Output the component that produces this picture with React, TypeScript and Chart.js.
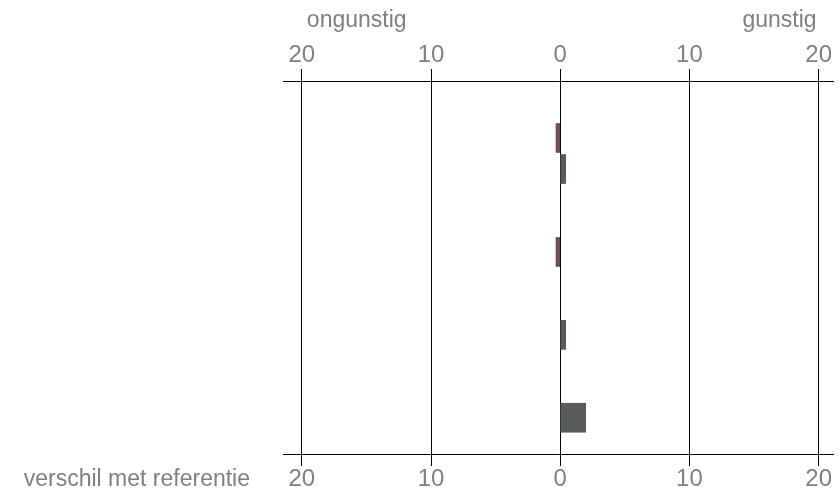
import React, { useEffect, useRef } from "react";
import { Chart, registerables } from "chart.js";

Chart.register(...registerables);

// Hidden row slots of the vertical (category) axis
const rowCount = 36;
const rowLabels = Array.from({ length: rowCount }, (_, i) => `rij ${i + 1}`);

// Series: row index + value
const unfavourableRows = [5, 16];
const unfavourableValues = [-0.33, -0.33];
const favourableRows = [8, 24, 32];
const favourableValues = [0.42, 0.42, 1.97];

// Axis
const tickValues = [-20, -10, 0, 10, 20];
const axisMin = -21.46;
const axisMax = 21.11;

// Texts
const leftTitle = "ongunstig";
const rightTitle = "gunstig";
const axisLabel = "verschil met referentie";

const buildSeries = (rows: number[], values: number[]) => {
  const out: (number | null)[] = rowLabels.map(() => null);
  rows.forEach((r, i) => {
    out[r] = values[i];
  });
  return out;
};

const textColor = "#808080";
const fontFamily = '"Liberation Sans", Arial, Helvetica, sans-serif';

const sideTextPlugin = {
  id: "sideTexts",
  afterDraw(chart: any) {
    const { ctx, chartArea, scales } = chart;
    const x = scales.x;
    ctx.save();
    ctx.fillStyle = textColor;
    ctx.textBaseline = "alphabetic";
    ctx.font = `23px ${fontFamily}`;
    ctx.textAlign = "left";
    ctx.fillText(leftTitle, x.getPixelForValue(tickValues[0]) + 5, 27);
    ctx.textAlign = "right";
    ctx.fillText(rightTitle, x.getPixelForValue(tickValues[tickValues.length - 1]) - 2, 27);
    ctx.fillText(axisLabel, chartArea.left - 33, 486);
    ctx.restore();
  },
};

const setTicks = (axis: any) => {
  axis.ticks = tickValues.map((v) => ({ value: v }));
};

export default function App() {
  const canvasRef = useRef<HTMLCanvasElement | null>(null);

  useEffect(() => {
    if (!canvasRef.current) return;
    const tickFont = { family: fontFamily, size: 24 };
    const chart = new Chart(canvasRef.current, {
      type: "bar",
      data: {
        labels: rowLabels,
        datasets: [
          {
            label: "ongunstig",
            data: buildSeries(unfavourableRows, unfavourableValues),
            backgroundColor: "#6b4c51",
            barThickness: 29,
            grouped: false,
          } as any,
          {
            label: "gunstig",
            data: buildSeries(favourableRows, favourableValues),
            backgroundColor: "#585d5a",
            barThickness: 29,
            grouped: false,
          } as any,
        ],
      },
      options: {
        indexAxis: "y",
        animation: false,
        responsive: false,
        layout: { padding: { left: 283, right: 7, top: 0, bottom: 0 } },
        plugins: {
          legend: { display: false },
          tooltip: { enabled: false },
        },
        scales: {
          x: {
            type: "linear",
            position: "bottom",
            min: axisMin,
            max: axisMax,
            z: 1,
            afterBuildTicks: setTicks,
            afterFit: (s: any) => {
              s.height = 39;
            },
            grid: { color: "#000000", lineWidth: 1, tickLength: 12, drawTicks: true },
            border: { display: true, color: "#000000", width: 1 },
            ticks: {
              color: textColor,
              font: tickFont,
              padding: -1,
              maxRotation: 0,
              callback: (v: any) => String(Math.abs(Number(v))),
            },
          },
          x2: {
            type: "linear",
            position: "top",
            min: axisMin,
            max: axisMax,
            z: 1,
            afterBuildTicks: setTicks,
            afterFit: (s: any) => {
              s.height = 81;
            },
            grid: { color: "#000000", lineWidth: 1, tickLength: 12, drawTicks: true },
            border: { display: true, color: "#000000", width: 1 },
            ticks: {
              color: textColor,
              font: tickFont,
              padding: -1,
              maxRotation: 0,
              callback: (v: any) => String(Math.abs(Number(v))),
            },
          },
          y: {
            type: "category",
            display: false,
          },
        },
      } as any,
      plugins: [sideTextPlugin],
    });
    return () => chart.destroy();
  }, []);

  return (
    <div style={{ position: "fixed", left: 0, top: 0, width: 840, height: 493, background: "#ffffff" }}>
      <canvas ref={canvasRef} width={840} height={493} />
    </div>
  );
}
